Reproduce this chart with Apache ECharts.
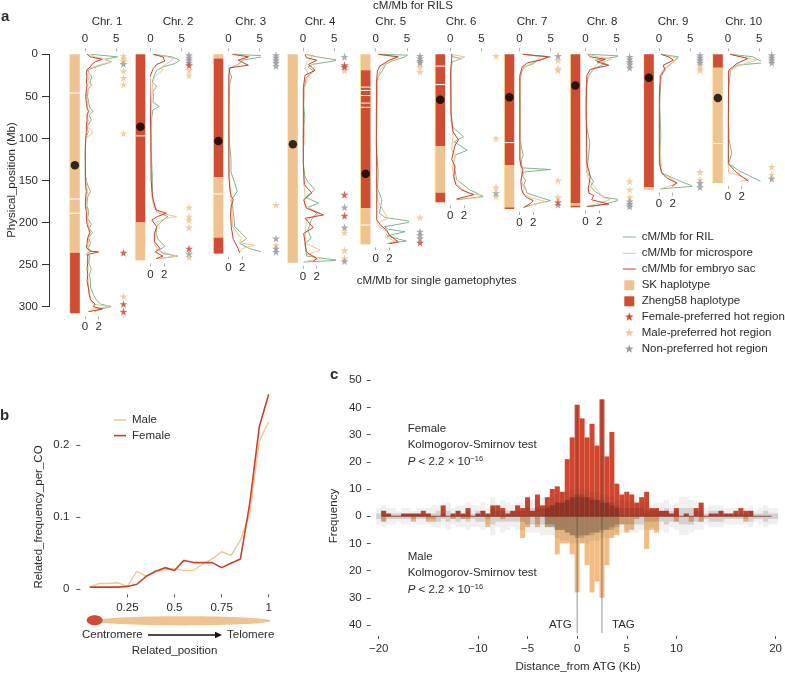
<!DOCTYPE html>
<html><head><meta charset="utf-8"><style>html,body{margin:0;background:#fff}#c{width:785px;height:673px}</style>
<script src="https://cdn.jsdelivr.net/npm/echarts@6/dist/echarts.min.js"></script></head>
<body><div id="c"></div><script>
// ---------- Panel a data: [Mb, value]
const chrNames=['Chr. 1','Chr. 2','Chr. 3','Chr. 4','Chr. 5','Chr. 6','Chr. 7','Chr. 8','Chr. 9','Chr. 10'];
const chrLengths=[308,245,237,248,226,176,184,182,161,153];
const centromeres=[132,86,103,107,142,54,51,37,28,52];
const chr1Ril=[[0,1],[3,5.2],[6,3.2],[9,4.2],[12,3],[15,1.8],[18,.6],[22,.6],[27,1.1],[32,.8],[37,1],[42,.5],[50,.4],[58,.6],[64,.8],[68,1.3],[72,.7],[78,1],[85,.4],[93,.5],[100,.1],[115,.05],[130,.05],[145,.1],[150,.2],[157,.5],[163,.9],[170,.4],[180,.3],[187,.6],[195,.4],[202,1],[207,.7],[212,1.2],[218,.6],[225,.9],[230,.5],[234,1],[237,.2],[240,.8],[248,.6],[255,1],[262,.7],[270,.9],[278,.9],[285,1.3],[292,1.8],[297,2.5],[300,4.2],[303,2.5],[306,1.5]];
const chr1Micro=[[0,.5],[3,1.5],[6,3.2],[9,3.7],[12,2.4],[15,1.2],[18,.4],[22,.3],[27,.6],[32,.4],[37,1],[42,.3],[50,.2],[58,.4],[64,.4],[68,.7],[72,.3],[78,.5],[85,.3],[93,1.2],[100,.1],[115,.05],[145,.05],[150,.1],[157,.2],[163,.4],[170,.2],[180,.1],[187,.4],[195,.3],[202,.5],[207,.6],[212,.8],[218,.5],[225,.5],[230,.3],[234,.6],[237,.3],[240,.4],[248,.3],[255,.5],[262,.3],[270,.5],[278,.5],[285,.7],[292,.9],[297,1.2],[300,3.5],[303,1],[306,.8]];
const chr1Embryo=[[0,.3],[3,.8],[6,2.5],[9,1.5],[12,1],[15,.8],[18,.3],[22,.2],[27,.3],[32,.2],[37,.3],[42,.2],[50,.1],[58,.2],[64,.3],[68,.5],[72,.3],[78,.3],[85,.2],[93,.2],[100,.1],[115,.05],[150,.05],[157,.1],[163,.2],[170,.1],[180,.05],[187,.2],[195,.2],[202,.3],[207,.5],[212,.7],[218,.4],[225,.3],[230,.2],[234,.8],[235,2],[238,.4],[248,.4],[255,.3],[262,.4],[270,.3],[278,.5],[285,.6],[292,.8],[297,1.5],[300,1.2],[303,2.5],[306,.5]];
const chr2Ril=[[0,.5],[3,3.4],[7,4.7],[11,3.9],[15,2],[19,1],[27,.5],[33,.3],[38,1],[44,.4],[50,.5],[57,.4],[62,1.4],[66,.4],[75,.2],[90,.1],[110,.1],[130,.2],[145,.3],[160,.3],[175,.4],[183,.8],[189,1.4],[193,2.8],[197,2],[205,1],[213,.9],[220,1.2],[228,2.3],[233,1.4],[237,2],[240,4.4],[243,1.4]];
const chr2Micro=[[0,.3],[3,2.3],[5,3.4],[9,2.8],[11,2.4],[16,1.5],[19,1.8],[27,.6],[35,.3],[50,.2],[70,.1],[110,.05],[150,.1],[170,.2],[183,.5],[188,1],[193,3.8],[195,2.2],[200,.8],[205,1.4],[212,.5],[225,.6],[233,1],[240,3.8],[243,1]];
const chr2Embryo=[[0,.4],[3,1.8],[8,2.1],[12,.9],[17,.4],[27,-.1],[50,-.05],[100,.05],[150,.1],[170,.3],[185,.8],[189,2.3],[193,1],[197,.2],[205,.9],[213,.6],[223,.6],[231,1.4],[235,.7],[240,1.8],[243,.8]];
const chr3Ril=[[0,1],[2,6.2],[7,2.3],[12,1.5],[15,.75],[17,0],[27,.5],[35,.2],[60,.1],[90,.05],[110,.2],[125,.4],[140,.4],[153,1],[163,1.4],[173,.5],[189,.8],[205,1],[212,2],[219,2.9],[225,1.8],[231,3.4],[236,5.8]];
const chr3Micro=[[0,.5],[2,3.1],[7,1.9],[12,1.5],[15,.5],[20,.1],[60,.05],[130,.1],[150,.2],[170,.3],[185,.5],[205,.6],[219,1.9],[224,1.6],[227,3.8],[231,2],[236,1.6]];
const chr3Embryo=[[0,.6],[3,2.9],[7,1.4],[13,2.9],[16,.2],[25,.05],[100,.05],[145,.05],[160,.2],[169,.4],[173,.7],[180,.4],[190,.3],[205,.4],[220,.7],[231,1.4],[236,1.6]];
const chr4Ril=[[0,.6],[3,2.2],[7,5.7],[12,1.5],[15,.8],[20,1.7],[28,.5],[40,.2],[60,.1],[76,.3],[90,.05],[130,.05],[145,.3],[152,.8],[161,1.9],[170,.4],[177,2.5],[182,.8],[189,2.2],[197,1.3],[209,.8],[219,1.3],[225,.3],[240,.6],[245,5.7],[247,.1]];
const chr4Micro=[[0,.4],[3,1.4],[10,.5],[17,.3],[25,.9],[40,.2],[70,.05],[104,.3],[110,.05],[150,.1],[170,.3],[180,.2],[189,2.5],[197,.5],[215,.3],[225,.5],[233,2.5],[238,.6],[243,2.7],[246,.5]];
const chr4Embryo=[[0,.3],[4,.5],[7,2],[12,.8],[19,1.75],[25,.3],[40,.05],[130,.05],[155,.2],[165,1.3],[173,.1],[183,.5],[191,3],[195,.3],[206,1.5],[213,.1],[235,.5],[243,2],[246,1.5]];
const chr5Ril=[[0,.5],[1,5.1],[4,4.4],[8,2.6],[12,1.6],[19,1.1],[28,.3],[60,.2],[110,.1],[141,.4],[160,.3],[173,1],[189,.6],[194,1.5],[199,6],[205,1.4],[208,2],[211,4.7],[216,1.8],[222,4.9],[225,2]];
const chr5Micro=[[0,.3],[3,3.1],[7,2],[11,1.3],[20,.6],[35,.2],[80,.1],[150,.1],[175,.3],[183,.9],[195,1.8],[201,.2],[207,.8],[211,1.8],[217,1.4],[223,3],[225,1.5]];
const chr5Embryo=[[0,.4],[3,3.3],[7,2],[14,.6],[20,.25],[35,.1],[100,.1],[140,.15],[197,.15],[204,.8],[209,1.6],[215,2],[220,2.8],[223,3.3],[225,2]];
const chr6Ril=[[0,.2],[3,.4],[5,1.8],[9,.3],[20,.1],[70,.1],[86,.3],[98,2.1],[104,.6],[114,2.7],[120,.8],[130,.5],[140,.8],[149,1],[161,3.1],[169,5.3],[173,1]];
const chr6Micro=[[0,.1],[3,2.1],[9,.2],[30,.1],[80,.1],[95,.4],[114,.2],[120,.7],[135,.3],[150,.6],[158,1.4],[165,2.5],[169,5.8],[172,2.4]];
const chr6Embryo=[[0,.2],[5,.2],[20,.05],[70,.1],[92,.4],[102,1.2],[108,.7],[125,.2],[133,.7],[145,.5],[155,.8],[161,1.6],[167,3.4],[172,.9]];
const chr7Ril=[[0,.6],[3,5],[7,3],[12,2],[15,.8],[20,.4],[30,.1],[100,.1],[110,.3],[120,.6],[125,.3],[135,.4],[137,5],[140,.6],[145,.5],[150,1],[155,.7],[160,1],[165,1.2],[170,3.2],[174,5],[178,2.5],[182,.7]];
const chr7Micro=[[0,.4],[3,3],[7,2.5],[12,1.5],[15,.6],[25,.1],[125,.1],[135,.2],[145,.3],[150,.3],[160,.7],[165,.4],[170,1.5],[175,3.8],[180,1.5]];
const chr7Embryo=[[0,.5],[3,4.2],[7,3],[10,1.2],[15,.4],[25,.05],[125,.05],[132,.2],[137,.5],[150,.2],[160,.3],[165,.5],[170,1],[174,2],[178,1.5],[182,.6]];
const chr8Ril=[[0,.4],[2,5.8],[7,1.5],[11,3.2],[17,1.3],[25,.5],[40,.1],[70,.1],[86,.2],[106,.7],[120,.5],[140,.2],[151,1.3],[157,.8],[163,1.5],[170,3],[173,5.6],[178,3.2],[181,.8]];
const chr8Micro=[[0,.3],[3,1.9],[6,3.8],[11,1.7],[17,1.2],[30,.2],[80,.1],[130,.1],[149,.4],[163,1.9],[170,2.5],[173,3.6],[178,1.5],[181,.2]];
const chr8Embryo=[[0,.3],[3,.7],[6,2.9],[9,1.7],[13,3.4],[18,.7],[25,.2],[60,.1],[130,.2],[145,.7],[160,.4],[165,.5],[168,1.2],[173,.9],[178,3.4],[181,.2]];
const chr9Ril=[[0,.4],[3,3.1],[11,2],[19,.7],[30,.3],[60,.1],[94,.3],[125,.15],[141,.4],[149,2.8],[157,5.5],[160,.2]];
const chr9Micro=[[0,.3],[5,2.8],[13,1.4],[20,.4],[40,.1],[100,.1],[141,.4],[153,2.7],[159,.6]];
const chr9Embryo=[[0,.3],[3,1.4],[7,2.1],[13,.6],[19,.9],[25,.2],[50,.05],[130,.05],[141,.4],[147,1.1],[153,2.6],[157,1.9]];
const chr10Ril=[[0,.5],[3,4],[7,4.9],[9,7.3],[13,1.4],[19,.4],[40,.1],[78,.1],[100,.15],[118,.6],[130,.1],[138,1.7],[144,3.3],[151,5.2]];
const chr10Micro=[[0,.3],[7,4.2],[13,1.8],[20,.1],[80,.05],[135,.05],[141,.1],[143,1.3],[149,3],[151,1.8]];
const chr10Embryo=[[0,.3],[5,2.9],[11,1.3],[19,.1],[80,.05],[130,.05],[141,1.3],[147,2.3],[151,3]];
const rilSeries=[chr1Ril,chr2Ril,chr3Ril,chr4Ril,chr5Ril,chr6Ril,chr7Ril,chr8Ril,chr9Ril,chr10Ril];
const microSeries=[chr1Micro,chr2Micro,chr3Micro,chr4Micro,chr5Micro,chr6Micro,chr7Micro,chr8Micro,chr9Micro,chr10Micro];
const embryoSeries=[chr1Embryo,chr2Embryo,chr3Embryo,chr4Embryo,chr5Embryo,chr6Embryo,chr7Embryo,chr8Embryo,chr9Embryo,chr10Embryo];
// haplotype blocks: [start, end, type] 0=SK 1=Zheng58
const haplotypes=[[[0,236,0],[236,308,1]],[[0,200,1],[200,245,0]],[[0,5,0],[5,146,1],[146,218,0],[218,237,1]],[[0,248,0]],[[0,19,0],[19,183,1],[183,226,0]],[[0,109,1],[109,164.5,0],[164.5,176,1]],[[0,131.6,1],[131.6,182,0],[182,184,1]],[[0,176.8,1],[176.8,180,0],[180,182,1]],[[0,158,1],[158,161,0]],[[0,16,1],[16,153,0]]];
const haplotypeGaps=[[46,172,189],[97],[166],[],[39,43,49,58,63,203],[14,36],[105],[],[],[106]];
const femaleStars=[[236,297,306],[13,231],[],[13,15,167,192],[224],[],[176],[],[],[]];
const maleStars=[[2,5,8,20,28,36,94,288],[19,25,182,193,197,206,241],[179,227],[19,212,233,243],[15,21,194],[2,100,158,169],[7,17,19,150,170],[151,161,170],[13,17,19,140,149],[134,143]];
const otherStars=[[11.5],[1,4,7,10,237],[1,4,7,10,14,219,231,235],[3,182,206,246],[2,5,8,10,211,215,219],[165],[2,179],[3,6,9,12,16,175,178,181],[1,4,7,10,153,158],[1,4,7,10,148]];
// ---------- Panel b data
const relPos=[.05,.1,.15,.2,.25,.3,.35,.4,.45,.5,.55,.6,.65,.7,.75,.8,.85,.9,.95,1];
const femaleFreq=[.003,.003,.003,.003,.004,.007,.018,.025,.03,.026,.04,.037,.037,.037,.03,.036,.042,.12,.225,.27];
const maleFreq=[.003,.008,.008,.009,.004,.025,.018,.025,.027,.029,.026,.026,.035,.042,.052,.047,.068,.105,.205,.232];
// ---------- Panel c data (bins every 0.5 kb from -20 to 20)
const distanceBins=[-20,-19.5,-19,-18.5,-18,-17.5,-17,-16.5,-16,-15.5,-15,-14.5,-14,-13.5,-13,-12.5,-12,-11.5,-11,-10.5,-10,-9.5,-9,-8.5,-8,-7.5,-7,-6.5,-6,-5.5,-5,-4.5,-4,-3.5,-3,-2.5,-2,-1.5,-1,-.5,0,.5,1,1.5,2,2.5,3,3.5,4,4.5,5,5.5,6,6.5,7,7.5,8,8.5,9,9.5,10,10.5,11,11.5,12,12.5,13,13.5,14,14.5,15,15.5,16,16.5,17,17.5,18,18.5,19,19.5,20];
const femaleCounts=[0,2,1,0,0,1,1,1,1,2,1,0,0,4,0,1,2,1,3,0,1,2,1,4,4,3,1,2,4,3,7,2,8,4,7,10,11,9,21,29,41,36,29,34,26,43,22,31,12,8,9,8,5,7,9,3,3,2,2,1,3,0,1,0,3,5,0,1,1,2,1,1,2,3,2,2,0,0,0,0,0];
const maleCounts=[0,2,0,0,0,0,0,2,0,0,2,2,0,0,0,1,0,1,1,0,0,0,4,0,0,1,0,0,0,8,4,0,4,0,4,3,14,10,10,14,28,10,18,28,24,30,18,8,7,3,6,5,1,0,12,5,6,0,0,0,2,0,0,2,0,2,0,0,0,0,0,0,0,0,2,0,0,0,0,0,0];
const controlOuter=[3,4,3,3,2,3,3,2,3,3,3,4,4,3,5,3,4,4,5,4,4,5,3,7,4,6,5,4,5,5,6,6,6,7,7,7,8,9,9,10,10,10,10,9,9,8,8,7,6,6,5,6,6,5,5,4,5,5,6,4,5,7,7,6,5,5,3,4,4,4,3,3,3,3,3,4,2,3,4,3,3];
const controlInner=[1,2,1,1,1,1,1,1,1,1,1,1,2,1,2,1,2,1,2,1,2,2,1,3,2,2,2,2,2,2,3,3,3,3,4,4,5,5,6,7,7,8,7,7,6,6,5,5,4,3,3,3,3,3,2,2,2,2,3,2,2,3,3,3,2,2,1,2,2,2,1,1,1,1,1,2,1,1,2,1,1];
const controlCore=[0,0,0,0,0,0,0,0,0,0,0,0,0,0,0,0,0,0,0,0,0,0,0,0,0,0,0,0,0,0,0,0,0,0,3,4,5,5,6,7,8,7,7,6,6,5,5,4,3,0,0,0,0,0,0,0,0,0,0,0,0,0,0,0,0,0,0,0,0,0,0,0,0,0,0,0,0,0,0,0,0];
const geneMarks=[0,2.5];
// ---------- Styles
const C={sk:'#eec391',z:'#cf4d33',green:'#80b68b',micro:'#f0c592',red:'#c8412b',gray:'#9b9ba5',text:'#2b2b2b'};
const FONT='"Liberation Sans",Arial,sans-serif';
const FS=11.5;
const MB=0.841, RIL=6.24, GAM=6.85;
const zero=[85,150.5,228.5,303,375.7,450.3,519.5,585.5,659,728];
const starPx=[38.5,38.5,47.5,41.5,44.3,45.7,38.5,44.2,41,43.7];
const STAR='path://M50 0L61 35L98 35L68 57L79 91L50 70L21 91L32 57L2 35L39 35Z';
const TOP=54.3;
const grids=[],xAxes=[],yAxes=[],series=[];
const lbl={color:C.text,fontFamily:FONT,fontSize:FS};
const thin={show:true,length:3,lineStyle:{color:'#999',width:.8}};
const noLine={show:false,onZero:false};
chrNames.forEach((n,i)=>{
 grids.push({left:zero[i],top:TOP,width:5*RIL,height:chrLengths[i]*MB+3});
 xAxes.push({gridIndex:i,type:'value',position:'top',offset:3,min:0,max:5,interval:5,splitLine:{show:false},axisLine:noLine,axisTick:thin,axisLabel:{...lbl,margin:6}});
 xAxes.push({gridIndex:i,type:'value',position:'bottom',min:0,max:5*RIL/GAM,splitLine:{show:false},axisLine:noLine,axisTick:{...thin,customValues:[0,2]},axisLabel:{...lbl,margin:5,customValues:[0,2]}});
 yAxes.push({gridIndex:i,type:'value',inverse:true,min:0,max:chrLengths[i]+3/MB,show:false,splitLine:{show:false}});
 const xi=2*i;
 series.push({type:'custom',xAxisIndex:xi,yAxisIndex:i,silent:true,clip:false,data:haplotypes[i],renderItem:(p,api)=>{
   const a=api.coord([0,api.value(0)]),b=api.coord([0,api.value(1)]);
   return {type:'group',children:[
    {type:'rect',shape:{x:a[0]-15,y:a[1],width:9.8,height:b[1]-a[1]},style:{fill:api.value(2)?C.z:C.sk}},
    {type:'rect',shape:{x:a[0]-15.6,y:a[1],width:.7,height:b[1]-a[1]},style:{fill:'#f6e27c'}}]};
 }});
 series.push({type:'custom',xAxisIndex:xi,yAxisIndex:i,silent:true,clip:false,data:haplotypeGaps[i].map(v=>[v]),renderItem:(p,api)=>{
   const a=api.coord([0,api.value(0)]);
   return {type:'rect',shape:{x:a[0]-15,y:a[1]-.5,width:9.8,height:1},style:{fill:'#fff'}};
 }});
 series.push({type:'scatter',xAxisIndex:xi,yAxisIndex:i,silent:true,clip:false,symbolSize:8.5,z:6,itemStyle:{color:'#000'},data:[[-10.1/RIL,centromeres[i]]]});
 const line=(d,xa,c,z)=>({type:'line',xAxisIndex:xa,yAxisIndex:i,silent:true,clip:false,symbol:'none',z:z,lineStyle:{color:c,width:1},data:d.map(p=>[p[1],p[0]])});
 series.push(line(rilSeries[i],xi,C.green,3));
 series.push(line(microSeries[i],xi+1,C.micro,4));
 series.push(line(embryoSeries[i],xi+1,C.red,5));
 const st=(d,c)=>({type:'scatter',xAxisIndex:xi,yAxisIndex:i,silent:true,clip:false,symbol:STAR,symbolSize:8,z:6,itemStyle:{color:c,opacity:.85},data:d.map(v=>[starPx[i]/RIL,v])});
 series.push(st(maleStars[i],C.micro));
 series.push(st(otherStars[i],C.gray));
 series.push(st(femaleStars[i],C.z));
});
// main y axis panel a
grids.push({left:49,top:TOP,width:1,height:300*MB});
xAxes.push({gridIndex:10,type:'value',min:0,max:1,show:false});
yAxes.push({gridIndex:10,type:'value',inverse:true,min:0,max:300,interval:50,splitLine:{show:false},
 axisLine:{show:true,onZero:false,lineStyle:{color:'#333',width:1}},axisTick:{show:true,length:7,lineStyle:{color:'#333'}},axisLabel:{...lbl,margin:11}});
// panel b
grids.push({left:80.3,top:387.1,width:188.4,height:202.2});
xAxes.push({gridIndex:11,type:'value',position:'bottom',offset:5,min:0,max:1,splitLine:{show:false},axisLine:noLine,
 axisTick:{show:true,length:3,customValues:[.25,.5,.75,1],lineStyle:{color:'#555'}},axisLabel:{...lbl,margin:8,customValues:[.25,.5,.75,1]}});
yAxes.push({gridIndex:11,type:'value',min:0,max:.28,splitLine:{show:false},axisLine:noLine,
 axisTick:{show:true,length:4,customValues:[0,.1,.2],lineStyle:{color:'#555'}},axisLabel:{...lbl,margin:11,customValues:[0,.1,.2]}});
const bline=(y,c,w)=>({type:'line',xAxisIndex:21,yAxisIndex:11,silent:true,symbol:'none',clip:false,lineStyle:{color:c,width:w},data:relPos.map((x,k)=>[x,y[k]])});
series.push(bline(maleFreq,C.micro,1.4));
series.push(bline(femaleFreq,C.red,1.6));
// panel c
grids.push({left:378.7,top:380.3,width:399.6,height:244.7});
xAxes.push({gridIndex:12,type:'value',position:'bottom',offset:11,min:-20,max:20,splitLine:{show:false},axisLine:noLine,
 axisTick:{show:true,length:3,customValues:[-20,-10,-5,0,5,10,20],lineStyle:{color:'#555'}},
 axisLabel:{...lbl,margin:7,customValues:[-20,-10,-5,0,5,10,20],formatter:v=>String(v).replace('-','\u2212')}});
yAxes.push({gridIndex:12,type:'value',position:'left',offset:8,min:-40,max:50,interval:10,splitLine:{show:false},axisLine:noLine,
 axisTick:{show:true,length:4,lineStyle:{color:'#555'}},axisLabel:{...lbl,margin:9,formatter:v=>String(Math.abs(v))}});
const bar=(d,c,z)=>({type:'bar',xAxisIndex:22,yAxisIndex:12,silent:true,barWidth:5,barGap:'-100%',z:z,itemStyle:{color:c},data:distanceBins.map((x,k)=>[x,d[k]])});
series.push(bar(maleCounts.map(v=>-v),'rgba(238,178,110,.85)',2));
series.push(bar(femaleCounts,'rgba(205,60,35,.95)',2));
series.push(bar(controlOuter,'rgba(60,60,60,.08)',3));
series.push(bar(controlOuter.map(v=>-v),'rgba(60,60,60,.08)',3));
series.push(bar(controlInner,'rgba(50,30,30,.15)',3));
series.push(bar(controlInner.map(v=>-v),'rgba(50,30,30,.15)',3));
series.push(bar(controlCore,'rgba(60,20,15,.25)',3));
series.push(bar(controlCore.map(v=>-v),'rgba(60,40,30,.25)',3));
series.push({type:'line',xAxisIndex:22,yAxisIndex:12,silent:true,symbol:'none',z:4,lineStyle:{color:'#7d2a1c',width:.8},data:[[-19.7,0],[19.6,0]]});
geneMarks.forEach((x,k)=>series.push({type:'line',xAxisIndex:22,yAxisIndex:12,silent:true,symbol:'none',clip:false,z:4,lineStyle:{color:'rgba(70,70,70,.6)',width:1},data:[[x,k?43:41],[x,-43]]}));
// annotations
const T=(text,x,y,o={})=>({type:'text',x,y,silent:true,rotation:o.rot||0,style:{text,fill:C.text,font:(o.bold?'bold ':'')+(o.size||FS)+'px '+FONT,textAlign:o.align||'left',textVerticalAlign:'middle',rich:o.rich}});
const g=[];
g.push(T('a',1,17,{bold:1,size:15}),T('b',0,416,{bold:1,size:15}),T('c',330,375,{bold:1,size:15}));
g.push(T('cM/Mb for RILS',413,5.5,{align:'center'}),T('cM/Mb for single gametophytes',436.7,281,{align:'center'}));
g.push(T('Physical_position (Mb)',12,180,{align:'center',rot:Math.PI/2}));
const chrX=[107,178,250.7,320,390.7,461,532,602,673,743.7];
chrNames.forEach((n,i)=>g.push(T(n,chrX[i],22,{align:'center'})));
const LX=629.3,TX=641.7;
const legendLines=[['cM/Mb for RIL',C.green,237],['cM/Mb for microspore',C.micro,253.3],['cM/Mb for embryo sac',C.red,269]];
legendLines.forEach(l=>{g.push({type:'line',silent:true,shape:{x1:LX-6.5,y1:l[2],x2:LX+6.5,y2:l[2]},style:{stroke:l[1],lineWidth:1}},T(l[0],TX,l[2]));});
[['SK haplotype',C.sk,285.3],['Zheng58 haplotype',C.z,301.3]].forEach(l=>{g.push({type:'rect',silent:true,shape:{x:LX-5,y:l[2]-5,width:10,height:10},style:{fill:l[1]}},T(l[0],TX,l[2]));});
const starPts=(cx,cy,r)=>{const p=[];for(let k=0;k<10;k++){const a=-Math.PI/2+k*Math.PI/5,q=k%2?r*.42:r;p.push([cx+q*Math.cos(a),cy+q*Math.sin(a)]);}return p;};
[['Female-preferred hot region',C.z,317],['Male-preferred hot region',C.micro,333],['Non-preferred hot region',C.gray,349]].forEach(l=>{g.push({type:'polygon',silent:true,shape:{points:starPts(LX,l[2],4.5)},style:{fill:l[1]}},T(l[0],TX,l[2]));});
// panel b annotations
g.push({type:'line',silent:true,shape:{x1:114,y1:420,x2:126,y2:420},style:{stroke:C.micro,lineWidth:1.4}},T('Male',132,420));
g.push({type:'line',silent:true,shape:{x1:114,y1:435.6,x2:126,y2:435.6},style:{stroke:C.red,lineWidth:1.6}},T('Female',132,435.6));
g.push(T('Related_frequency_per_CO',39,517,{align:'center',rot:Math.PI/2}));
g.push({type:'ellipse',silent:true,shape:{cx:183,cy:620.8,rx:88,ry:4.6},style:{fill:C.sk}});
g.push({type:'ellipse',silent:true,shape:{cx:94.7,cy:620.3,rx:8,ry:5},style:{fill:C.z}});
g.push(T('Centromere',82,635),T('Telomere',227,635),T('Related_position',174.5,651,{align:'center'}));
g.push({type:'line',silent:true,shape:{x1:148,y1:635,x2:216,y2:635},style:{stroke:'#111',lineWidth:1.4}});
g.push({type:'polygon',silent:true,shape:{points:[[215,631.8],[222,635],[215,638.2]]},style:{fill:'#111'}});
// panel c annotations
const rich={i:{fontStyle:'italic',fontFamily:FONT,fontSize:FS,fill:C.text},n:{fontFamily:FONT,fontSize:FS,fill:C.text},s:{fontFamily:FONT,fontSize:7.5,fill:C.text,padding:[0,0,6,0]}};
const pval='{i|P}{n| < 2.2 \u00d7 10}{s|\u221216}';
g.push(T('Female',407.7,428.7),T('Kolmogorov-Smirnov test',407.7,444.7),T(pval,407.7,461.7,{rich}));
g.push(T('Male',407.7,556.7),T('Kolmogorov-Smirnov test',407.7,573),T(pval,407.7,589.7,{rich}));
g.push(T('ATG',571.7,625,{align:'right'}),T('TAG',612,625));
g.push(T('Frequency',334,516,{align:'center',rot:Math.PI/2}));
g.push(T('Distance_from ATG (Kb)',578,666.5,{align:'center'}));
const chart=echarts.init(document.getElementById('c'),null,{renderer:'canvas'});
chart.setOption({animation:false,backgroundColor:'#fff',textStyle:{fontFamily:FONT},grid:grids,xAxis:xAxes,yAxis:yAxes,series,graphic:{elements:g}});
</script></body></html>
